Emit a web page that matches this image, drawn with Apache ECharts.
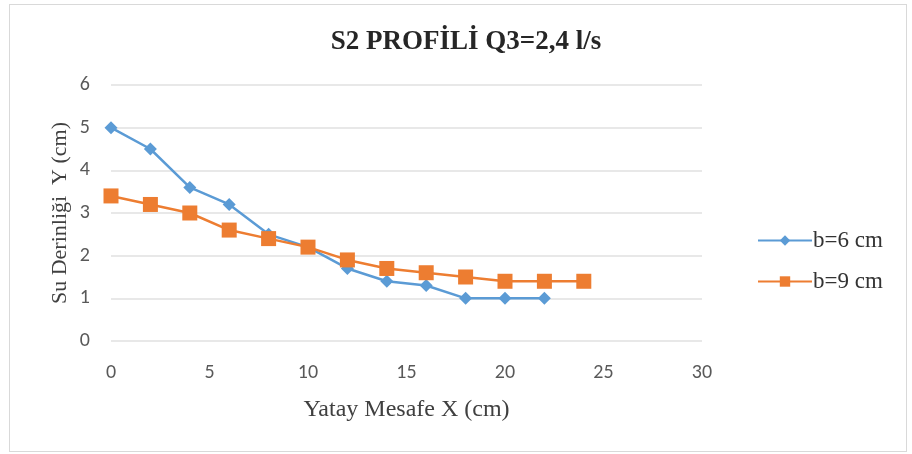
<!DOCTYPE html>
<html>
<head>
<meta charset="utf-8">
<script src="https://cdn.jsdelivr.net/npm/echarts@6/dist/echarts.min.js"></script>
<style>
  html, body { margin: 0; padding: 0; background: #fff; }
  #frame { position: absolute; left: 9px; top: 4px; width: 898px; height: 448px; border: 1px solid #d9d9d9; box-sizing: border-box; }
  #chart { position: absolute; left: 0; top: 0; width: 912px; height: 454px; }
</style>
</head>
<body>
<div id="frame"></div>
<div id="chart"></div>
<script>
// Horizontal distance (cm)
const xB6 = [0, 2, 4, 6, 8, 10, 12, 14, 16, 18, 20, 22];
const xB9 = [0, 2, 4, 6, 8, 10, 12, 14, 16, 18, 20, 22, 24];
// Water depth (cm)
const yB6 = [5.0, 4.5, 3.6, 3.2, 2.5, 2.2, 1.7, 1.4, 1.3, 1.0, 1.0, 1.0];
const yB9 = [3.4, 3.2, 3.0, 2.6, 2.4, 2.2, 1.9, 1.7, 1.6, 1.5, 1.4, 1.4, 1.4];
const seriesNames = ['b=6 cm', 'b=9 cm'];
const titleText = 'S2 PROFİLİ Q3=2,4 l/s';
const xAxisName = 'Yatay Mesafe X (cm)';
const yAxisName = 'Su Derinliği  Y (cm)';

const pairs = (xs, ys) => xs.map((x, i) => [x, ys[i]]);

const chart = echarts.init(document.getElementById('chart'), null, { renderer: 'canvas' });
const serif = 'Liberation Serif, Times New Roman, serif';
const sans = 'Carlito, Liberation Sans, Noto Sans, sans-serif';

chart.setOption({
  animation: false,
  backgroundColor: 'transparent',
  title: {
    text: titleText,
    left: 461, top: 24, textAlign: 'center',
    textStyle: { fontFamily: serif, fontWeight: 'bold', fontSize: 27, color: '#262626' }
  },
  legend: {
    orient: 'vertical',
    left: 752, top: 224,
    itemGap: 18,
    itemWidth: 54, itemHeight: 13,
    textStyle: { fontFamily: serif, fontSize: 23, color: '#333', padding: [0, 0, 0, -4] },
    data: seriesNames
  },
  grid: { left: 111, right: 210, top: 85, bottom: 113 },
  xAxis: {
    type: 'value', min: 0, max: 30, interval: 5,
    name: xAxisName, nameLocation: 'middle', nameGap: 57, nameMoveOverlap: false,
    nameTextStyle: { fontFamily: serif, fontSize: 24, color: '#404040' },
    axisLine: { show: false },
    axisTick: { show: false },
    splitLine: { show: false },
    axisLabel: { fontFamily: sans, fontSize: 20, color: '#595959', margin: 22 }
  },
  yAxis: {
    type: 'value', min: 0, max: 6, interval: 1,
    name: yAxisName, nameLocation: 'middle', nameGap: 40, nameMoveOverlap: false,
    nameTextStyle: { fontFamily: serif, fontSize: 22, color: '#404040' },
    axisLine: { show: false },
    axisTick: { show: false },
    splitLine: { show: true, lineStyle: { color: '#e0e0e0', width: 1.5 } },
    axisLabel: { fontFamily: sans, fontSize: 20, color: '#595959', margin: 21 }
  },
  series: [
    {
      name: seriesNames[0], type: 'line',
      data: pairs(xB6, yB6),
      symbol: 'diamond', symbolSize: 13,
      itemStyle: { color: '#5B9BD5' },
      lineStyle: { color: '#5B9BD5', width: 2.5 },
      z: 2
    },
    {
      name: seriesNames[1], type: 'line',
      data: pairs(xB9, yB9),
      symbol: 'rect', symbolSize: 15,
      itemStyle: { color: '#ED7D31' },
      lineStyle: { color: '#ED7D31', width: 2.5 },
      z: 3
    }
  ]
});
</script>
</body>
</html>
